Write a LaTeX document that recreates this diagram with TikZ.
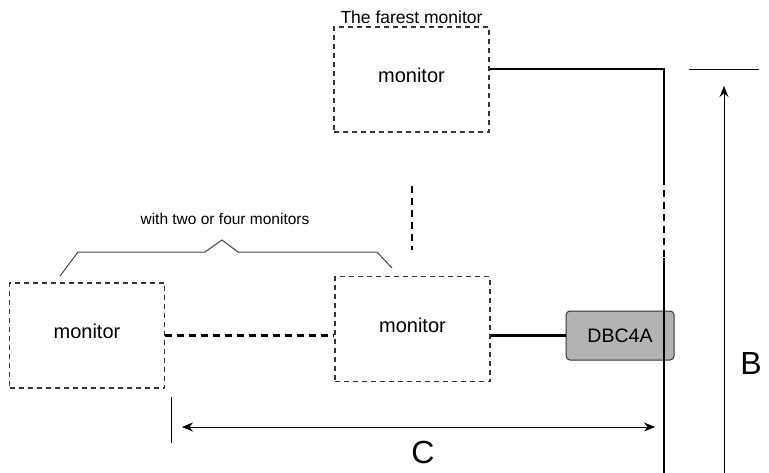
\documentclass[tikz,border=0pt]{standalone}
\usepackage{fontspec}
\setmainfont{Liberation Sans}
\usepackage{tikz}
\usetikzlibrary{arrows.meta,positioning,calc}
\definecolor{mondraw}{HTML}{333333}
\definecolor{boxgris}{HTML}{B3B3B3}
\definecolor{bracegris}{HTML}{444444}
\newcommand{\montxt}{\raisebox{8pt}{monitor}}

\begin{document}
\begin{tikzpicture}[x=1pt,y=-1pt,
  monbox/.style={rectangle,draw=mondraw,line width=1.1pt,dash pattern=on 5pt off 4pt,
    minimum width=155pt,minimum height=105pt,inner sep=0pt,font=\fontsize{20}{22}\selectfont},
  dbcbox/.style={rectangle,rounded corners=4pt,draw=mondraw,fill=boxgris,line width=1pt,
    minimum width=108pt,minimum height=49pt,inner sep=0pt,font=\fontsize{19.5}{22}\selectfont},
  cable/.style={black,line width=2.5pt},
  cabledash/.style={black,line width=2.5pt,dash pattern=on 7pt off 5pt},
  dim/.style={black,line width=1pt},
  dimarrow/.style={black,line width=1pt,-{Stealth[length=11pt,width=9pt]}},
  dimlabel/.style={font=\fontsize{32}{36}\selectfont,inner sep=0pt}]
  \useasboundingbox (0,0) rectangle (769,472);
  \node[monbox] (mtop) at (411.5,79.5) {\montxt};
  \node[font=\fontsize{17.5}{20}\selectfont,above=1pt of mtop,inner sep=2pt] (farest) {The farest monitor};
  \node[monbox] (mmid) at (412.5,329) {\montxt};
  \node[monbox] (mleft) at (87,335.5) {\montxt};
  \node[dbcbox] (dbc) at (620,335.5) {DBC4A};
  \node[font=\fontsize{15.5}{18}\selectfont] (nbmon) at (225,219) {with two or four monitors};
  % bus
  \coordinate (bustop) at (664,69);
  \coordinate (busdasha) at (664,178);
  \coordinate (busdashb) at (664,258);
  \coordinate (busbot) at (664,474);
  \draw[cable] (mtop.east |- bustop) -- (bustop) -- (busdasha);
  \draw[cabledash] (busdasha) -- (busdashb);
  \draw[cable] (busdashb) -- (busbot);
  \draw[cable] (mmid.east |- dbc.west) -- (dbc.west);
  \draw[cabledash] (mleft.east) -- (mleft.east -| mmid.west);
  \coordinate (moredota) at (412,186);
  \coordinate (moredotb) at (412,250);
  \draw[cabledash,line width=2.2pt] (moredota) -- (moredotb);
  % brace
  \draw[bracegris,line width=1pt] (60,276) -- (78,252) -- (205,252) -- (222,240)
    -- (238,252) -- (377,252) -- (392,268);
  % dimension C
  \coordinate (ctick1) at (171,397);
  \coordinate (ctick2) at (171,443);
  \draw[dim] (ctick1) -- (ctick2);
  \coordinate (cfrom) at (182,427);
  \coordinate (cto) at (655,427);
  \draw[dim,{Stealth[length=11pt,width=9pt]}-{Stealth[length=11pt,width=9pt]}] (cfrom) -- (cto);
  \node[dimlabel] (clab) at (423,452) {C};
  % dimension B
  \coordinate (btick1) at (689,69);
  \coordinate (btick2) at (759,69);
  \draw[dim] (btick1) -- (btick2);
  \coordinate (bfrom) at (724,474);
  \coordinate (bto) at (724,86);
  \draw[dimarrow] (bfrom) -- (bto);
  \node[dimlabel] (blab) at (751,363) {B};
\end{tikzpicture}
\end{document}
